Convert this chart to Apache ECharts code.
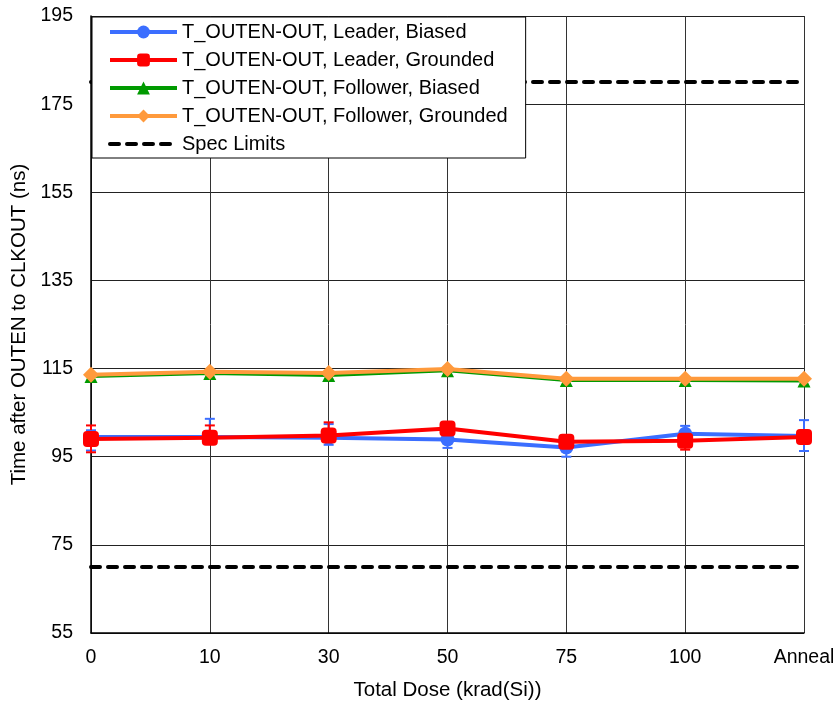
<!DOCTYPE html>
<html>
<head>
<meta charset="utf-8">
<script src="https://cdn.jsdelivr.net/npm/echarts@6/dist/echarts.min.js"></script>
<style>
  html, body { margin: 0; padding: 0; background: #fff; }
  #chart { width: 838px; height: 701px; }
</style>
</head>
<body>
<div id="chart"></div>
<script>
// Total dose steps
const categories = ['0', '10', '30', '50', '75', '100', 'Anneal'];

// Mean T_OUTEN-OUT (ns) per dose step
const leaderBiased = [99.5, 99.5, 99.3, 98.9, 97.1, 100.2, 99.7];
const leaderGrounded = [99.0, 99.3, 99.8, 101.4, 98.4, 98.6, 99.5];
const followerBiased = [113.2, 113.9, 113.4, 114.5, 112.3, 112.3, 112.2];
const followerGrounded = [113.6, 114.3, 114.0, 114.9, 112.7, 112.7, 112.7];

// Min / max spread for the leader parts
const leaderBiasedLow = [96.4, 98.5, 97.7, 97.0, 95.0, 98.5, 96.3];
const leaderBiasedHigh = [101.0, 103.6, 102.4, 100.5, 99.0, 102.0, 103.3];
const leaderGroundedLow = [96.0, 98.3, 99.0, 100.5, 97.5, 96.6, 98.5];
const leaderGroundedHigh = [102.1, 102.1, 102.8, 102.3, 99.5, 100.5, 100.5];

// Specification limits (ns)
const specUpper = 180;
const specLower = 70;

// Y axis tick labels
const yTicks = [55, 75, 95, 115, 135, 155, 175, 195];

const FONT = 'Liberation Sans, Arial, sans-serif';
const C_BLUE = '#3B6EFF';
const C_RED = '#FF0000';
const C_GREEN = '#009A00';
const C_ORANGE = '#FF9A3C';

function errorBars(lows, highs) {
  return lows.map((lo, i) => [i, lo, highs[i]]);
}

function errorRenderer(color) {
  return function (params, api) {
    const i = api.value(0);
    const pLo = api.coord([i, api.value(1)]);
    const pHi = api.coord([i, api.value(2)]);
    const hw = 5;
    const st = { stroke: color, lineWidth: 2 };
    return {
      type: 'group',
      children: [
        { type: 'line', shape: { x1: pLo[0], y1: pLo[1], x2: pHi[0], y2: pHi[1] }, style: st },
        { type: 'line', shape: { x1: pLo[0] - hw, y1: pLo[1], x2: pLo[0] + hw, y2: pLo[1] }, style: st },
        { type: 'line', shape: { x1: pHi[0] - hw, y1: pHi[1], x2: pHi[0] + hw, y2: pHi[1] }, style: st }
      ]
    };
  };
}

const specLine = v => categories.map(() => v);

const chart = echarts.init(document.getElementById('chart'), null, { renderer: 'canvas' });

chart.setOption({
  animation: false,
  textStyle: { fontFamily: FONT },
  grid: { left: 91, right: 34, top: 16, bottom: 68, containLabel: false, outerBoundsMode: 'none' },
  legend: {
    left: 92,
    top: 17,
    orient: 'vertical',
    backgroundColor: '#fff',
    borderColor: '#000',
    borderWidth: 1,
    borderRadius: 0,
    padding: [5, 18, 4, 16],
    itemGap: 8,
    itemWidth: 67,
    itemHeight: 16,
    selectedMode: false,
    lineStyle: { width: 4 },
    textStyle: { fontFamily: FONT, fontSize: 20, color: '#000' },
    data: [
      'T_OUTEN-OUT, Leader, Biased',
      'T_OUTEN-OUT, Leader, Grounded',
      'T_OUTEN-OUT, Follower, Biased',
      'T_OUTEN-OUT, Follower, Grounded',
      'Spec Limits'
    ]
  },
  xAxis: {
    type: 'category',
    data: categories,
    boundaryGap: false,
    name: 'Total Dose (krad(Si))',
    nameLocation: 'middle',
    nameGap: 47,
    nameTextStyle: { fontFamily: FONT, fontSize: 20.5, color: '#000' },
    axisLine: { lineStyle: { color: '#000', width: 1.5 } },
    axisTick: { show: false },
    axisLabel: { fontFamily: FONT, fontSize: 19.5, color: '#000', margin: 15, interval: 0 },
    splitLine: { show: true, interval: 0, lineStyle: { color: '#333', width: 1 } }
  },
  yAxis: {
    type: 'value',
    min: 55,
    max: 195,
    name: 'Time after OUTEN to CLKOUT (ns)',
    nameLocation: 'middle',
    nameGap: 52,
    nameTextStyle: { fontFamily: FONT, fontSize: 20.5, color: '#000' },
    axisLine: { show: true, lineStyle: { color: '#000', width: 1.5 } },
    axisTick: { show: false, customValues: yTicks },
    axisLabel: { fontFamily: FONT, fontSize: 19.5, color: '#000', margin: 18, customValues: yTicks },
    splitLine: { show: true, lineStyle: { color: '#222', width: 1 } }
  },
  series: [
    {
      type: 'custom',
      name: 'err-leader-biased',
      renderItem: errorRenderer(C_BLUE),
      data: errorBars(leaderBiasedLow, leaderBiasedHigh),
      encode: { x: 0, y: [1, 2] },
      z: 1,
      silent: true
    },
    {
      type: 'custom',
      name: 'err-leader-grounded',
      renderItem: errorRenderer(C_RED),
      data: errorBars(leaderGroundedLow, leaderGroundedHigh),
      encode: { x: 0, y: [1, 2] },
      z: 1,
      silent: true
    },
    {
      type: 'line',
      name: 'Spec Limits',
      data: specLine(specUpper),
      symbol: 'none',
      lineStyle: { color: '#000', width: 4, type: [9, 8], cap: 'round' },
      itemStyle: { color: 'rgba(0,0,0,0)' },
      z: 1
    },
    {
      type: 'line',
      name: 'Spec Limits',
      data: specLine(specLower),
      symbol: 'none',
      lineStyle: { color: '#000', width: 4, type: [9, 8], cap: 'round' },
      itemStyle: { color: 'rgba(0,0,0,0)' },
      z: 1
    },
    {
      type: 'line',
      name: 'T_OUTEN-OUT, Leader, Biased',
      data: leaderBiased,
      symbol: 'circle',
      symbolSize: 14,
      lineStyle: { color: C_BLUE, width: 4 },
      itemStyle: { color: C_BLUE },
      z: 3
    },
    {
      type: 'line',
      name: 'T_OUTEN-OUT, Leader, Grounded',
      data: leaderGrounded,
      symbol: 'roundRect',
      symbolSize: 16,
      lineStyle: { color: C_RED, width: 4 },
      itemStyle: { color: C_RED },
      z: 4
    },
    {
      type: 'line',
      name: 'T_OUTEN-OUT, Follower, Biased',
      data: followerBiased,
      symbol: 'triangle',
      symbolSize: 13,
      lineStyle: { color: C_GREEN, width: 3 },
      itemStyle: { color: C_GREEN },
      z: 3
    },
    {
      type: 'line',
      name: 'T_OUTEN-OUT, Follower, Grounded',
      data: followerGrounded,
      symbol: 'diamond',
      symbolSize: 16,
      lineStyle: { color: C_ORANGE, width: 4 },
      itemStyle: { color: C_ORANGE },
      z: 4
    }
  ]
});
</script>
</body>
</html>
